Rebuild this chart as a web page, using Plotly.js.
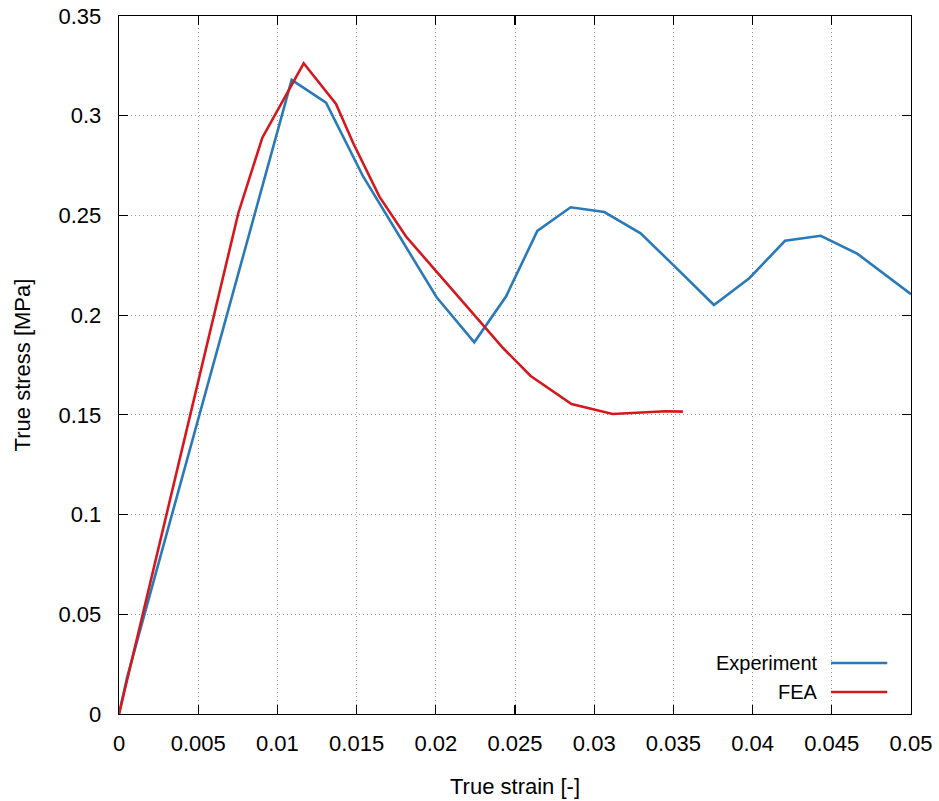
<!DOCTYPE html>
<html>
<head>
<meta charset="utf-8">
<script src="https://cdn.plot.ly/plotly-3.0.1.min.js"></script>
<style>html,body{margin:0;padding:0;background:#fff;}#chart{width:939px;height:801px;}</style>
</head>
<body>
<div id="chart"></div>
<script>
// Experiment (blue)
const expStrain = [0, 0.0005, 0.0109, 0.01307, 0.01542, 0.02004, 0.02243, 0.02443, 0.02641, 0.02851, 0.03064, 0.03293, 0.0350, 0.03756, 0.03979, 0.04205, 0.04430, 0.04663, 0.0500];
const expStress = [0, 0.018, 0.318, 0.3065, 0.2694, 0.2091, 0.1864, 0.2093, 0.2422, 0.2541, 0.2517, 0.2410, 0.2251, 0.2051, 0.2185, 0.2373, 0.2398, 0.2307, 0.2105];
// FEA (red)
const feaStrain = [0, 0.00753, 0.00905, 0.01166, 0.0137, 0.01479, 0.01644, 0.01812, 0.02426, 0.02599, 0.02857, 0.03116, 0.0345, 0.0356];
const feaStress = [0, 0.2511, 0.2890, 0.3263, 0.3059, 0.2862, 0.2594, 0.2394, 0.1834, 0.1695, 0.1554, 0.1504, 0.1518, 0.1516];
const seriesNames = ['Experiment', 'FEA'];
const xTicks = [0, 0.005, 0.01, 0.015, 0.02, 0.025, 0.03, 0.035, 0.04, 0.045, 0.05];
const xTickText = ['0', '0.005', '0.01', '0.015', '0.02', '0.025', '0.03', '0.035', '0.04', '0.045', '0.05'];
const yTicks = [0, 0.05, 0.1, 0.15, 0.2, 0.25, 0.3, 0.35];
const yTickText = ['0', '0.05', '0.1', '0.15', '0.2', '0.25', '0.3', '0.35'];

const blue = '#2a7ab9';
const red = '#d3191f';
const font = 'Liberation Sans, Arial, sans-serif';

const traces = [
  {x: expStrain, y: expStress, mode: 'lines', name: seriesNames[0], line: {color: blue, width: 2.6}},
  {x: feaStrain, y: feaStress, mode: 'lines', name: seriesNames[1], line: {color: red, width: 2.6}}
];

const axisCommon = {
  showline: true, linecolor: '#000', linewidth: 1.3, mirror: 'allticks',
  ticks: 'inside', ticklen: 9, tickcolor: '#000', tickwidth: 1.2,
  showgrid: true, gridcolor: '#9a9a9a', griddash: '1px,3px', gridwidth: 1,
  zeroline: false, tickfont: {family: font, size: 22, color: '#000'},
  tickmode: 'array'
};

const layout = {
  width: 939, height: 801,
  margin: {l: 119, r: 28, t: 16, b: 87},
  paper_bgcolor: '#fff', plot_bgcolor: '#fff',
  showlegend: false,
  font: {family: font, color: '#000'},
  xaxis: Object.assign({}, axisCommon, {
    range: [0, 0.05], tickvals: xTicks, ticktext: xTickText,
    ticklabelstandoff: 9,
    title: {text: 'True strain [-]', font: {family: font, size: 22, color: '#000'}, standoff: 24}
  }),
  yaxis: Object.assign({}, axisCommon, {
    range: [0, 0.35], tickvals: yTicks, ticktext: yTickText,
    ticklabelstandoff: 12,
    title: {text: 'True stress [MPa]', font: {family: font, size: 22, color: '#000'}, standoff: 21}
  }),
  shapes: [
    {type: 'line', xref: 'paper', yref: 'paper', x0: 0.899, x1: 0.970, y0: 0.0731, y1: 0.0731, line: {color: blue, width: 2.6}},
    {type: 'line', xref: 'paper', yref: 'paper', x0: 0.899, x1: 0.970, y0: 0.0315, y1: 0.0315, line: {color: red, width: 2.6}}
  ],
  annotations: [
    {xref: 'paper', yref: 'paper', x: 0.8826, y: 0.0731, xanchor: 'right', yanchor: 'middle', xshift: 2, text: seriesNames[0], showarrow: false, font: {family: font, size: 20, color: '#000'}},
    {xref: 'paper', yref: 'paper', x: 0.8826, y: 0.0315, xanchor: 'right', yanchor: 'middle', xshift: 2, text: seriesNames[1], showarrow: false, font: {family: font, size: 20, color: '#000'}}
  ]
};

Plotly.newPlot('chart', traces, layout, {displayModeBar: false, staticPlot: true});
</script>
</body>
</html>
